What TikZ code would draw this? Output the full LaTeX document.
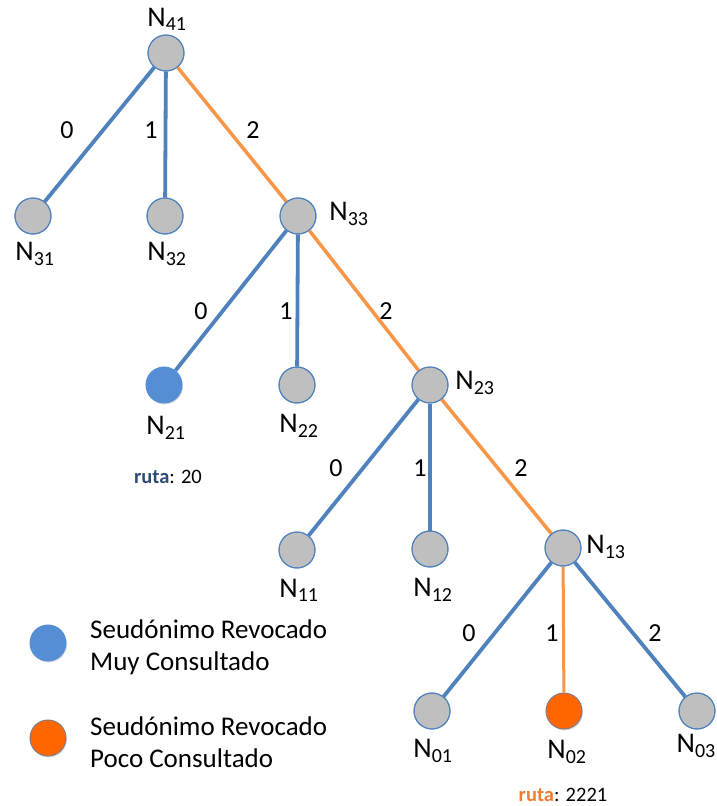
\documentclass[tikz,border=0pt]{standalone}
\usepackage{fontspec}
\setmainfont{Carlito}
\usetikzlibrary{shadows}

\definecolor{edgeblue}{HTML}{4F81BD}
\definecolor{edgeorange}{HTML}{F79646}
\definecolor{nodegray}{HTML}{BFBFBF}
\definecolor{fillblue}{HTML}{558ED5}
\definecolor{fillorange}{HTML}{FF6600}
\definecolor{rutablue}{HTML}{2E4A75}
\definecolor{rutaorange}{HTML}{ED7D31}

\newcommand{\nname}[1]{N\textsubscript{#1}}

\tikzset{
  treenode/.style={circle, minimum size=36pt, inner sep=0pt, fill=nodegray, draw=edgeblue, line width=1pt},
  revblue/.style={treenode, fill=fillblue, draw=fillblue, drop shadow={opacity=0.25, shadow xshift=1pt, shadow yshift=-1.5pt}},
  revorange/.style={treenode, fill=fillorange, draw=edgeblue!70!fillorange, drop shadow={opacity=0.25, shadow xshift=1pt, shadow yshift=-1.5pt}},
  nlabel/.style={font=\fontsize{28.5}{32}\selectfont, inner sep=0pt},
  elabel/.style={font=\fontsize{26}{30}\selectfont, inner sep=0pt},
  legtext/.style={font=\fontsize{27}{32}\selectfont, align=left, anchor=west, inner sep=0pt},
  rutatext/.style={font=\fontsize{20.5}{24}\selectfont, inner sep=0pt},
  blueedge/.style={draw=edgeblue, line width=3.8pt},
  orangeedge/.style={draw=edgeorange, line width=3.5pt},
  orangethin/.style={draw=edgeorange, line width=3pt},
}

\begin{document}
\begin{tikzpicture}[x=1pt, y=-1pt]
\useasboundingbox (0,0) rectangle (716,806);

% tree nodes
\node[treenode] (n41) at (166,53) {};
\node[treenode] (n31) at (33,216) {};
\node[treenode] (n32) at (165,216) {};
\node[treenode] (n33) at (298,216) {};
\node[revblue]  (n21) at (164,385) {};
\node[treenode] (n22) at (297,385) {};
\node[treenode] (n23) at (430,385) {};
\node[treenode] (n11) at (297,550) {};
\node[treenode] (n12) at (430,549) {};
\node[treenode] (n13) at (563,548) {};
\node[treenode] (n01) at (432,711) {};
\node[revorange] (n02) at (564,711) {};
\node[treenode] (n03) at (697,711) {};

% connectors
\draw[blueedge]   (n41) -- (n31);
\draw[blueedge]   (n41) -- (n32);
\draw[orangeedge] (n41) -- (n33);
\draw[blueedge]   (n33) -- (n21);
\draw[blueedge]   (n33) -- (n22);
\draw[orangeedge] (n33) -- (n23);
\draw[blueedge]   (n23) -- (n11);
\draw[blueedge]   (n23) -- (n12);
\draw[orangeedge] (n23) -- (n13);
\draw[blueedge]   (n13) -- (n01);
\draw[orangethin] (n13) -- (n02);
\draw[blueedge]   (n13) -- (n03);

% redraw node outlines above the connector ends
\foreach \n in {n41,n31,n32,n33,n22,n23,n11,n12,n13,n01,n03}
  \draw[edgeblue, line width=1pt] (\n) circle[radius=18pt];

% node names
\node[nlabel] (l41) at (167,19) {\nname{41}};
\node[nlabel] (l31) at (35,254) {\nname{31}};
\node[nlabel] (l32) at (167,254) {\nname{32}};
\node[nlabel] (l33) at (349,214) {\nname{33}};
\node[nlabel] (l21) at (166,428) {\nname{21}};
\node[nlabel] (l22) at (299,426) {\nname{22}};
\node[nlabel] (l23) at (475,383) {\nname{23}};
\node[nlabel] (l11) at (299,590) {\nname{11}};
\node[nlabel] (l12) at (433,590) {\nname{12}};
\node[nlabel] (l13) at (606,547) {\nname{13}};
\node[nlabel] (l01) at (433,751) {\nname{01}};
\node[nlabel] (l02) at (567,752) {\nname{02}};
\node[nlabel, anchor=east] (l03) at (716,746) {\nname{03}};

% branch digits
\node[elabel] (e1a) at (67,130) {0};
\node[elabel] (e1b) at (151,130) {1};
\node[elabel] (e1c) at (253,130) {2};
\node[elabel] (e2a) at (201,311) {0};
\node[elabel] (e2b) at (286,311) {1};
\node[elabel] (e2c) at (386,311) {2};
\node[elabel] (e3a) at (336,468) {0};
\node[elabel] (e3b) at (420,468) {1};
\node[elabel] (e3c) at (521,468) {2};
\node[elabel] (e4a) at (469,633) {0};
\node[elabel] (e4b) at (552,633) {1};
\node[elabel] (e4c) at (655,633) {2};

% paths
\node[rutatext] (r20) at (168,477) {\textcolor{rutablue}{\textbf{ruta}}: 20};
\node[rutatext] (r2221) at (563,795) {\textcolor{rutaorange}{\textbf{ruta}}: 2221};

% legend
\node[revblue]   (legb) at (48,643) {};
\node[revorange] (lego) at (48,738) {};
\node[legtext] (legbt) at (90,647) {Seudónimo Revocado\\Muy Consultado};
\node[legtext] (legot) at (90,742) {Seudónimo Revocado\\Poco Consultado};
\end{tikzpicture}
\end{document}
